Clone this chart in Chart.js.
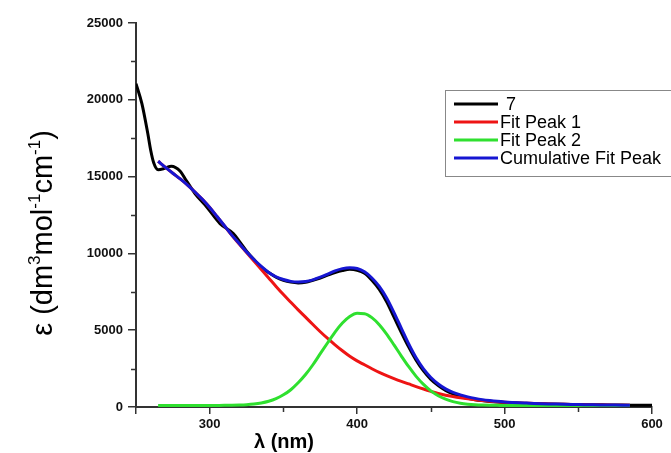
<!DOCTYPE html>
<html>
<head>
<meta charset="utf-8">
<script src="https://cdn.jsdelivr.net/npm/chart.js@4.4.1/dist/chart.umd.min.js"></script>
<style>
html,body{margin:0;padding:0;background:#fff;}
#wrap{width:671px;height:453px;position:relative;}
</style>
</head>
<body>
<div id="wrap"><canvas id="c" width="671" height="453"></canvas></div>
<script>
// ---- data ----
const seriesLabels = ["7", "Fit Peak 1", "Fit Peak 2", "Cumulative Fit Peak"];
const xTickLabels = [300, 400, 500, 600];
const yTickLabels = [0, 5000, 10000, 15000, 20000, 25000];

// measured spectrum "7"
const sampleWavelength = [250,254,258,260,262,265,269,274,280,284,290,298,307,316,320,325,330,335,340,345,350,355,360,365,370,375,380,385,390,395,400,405,410,415,420,425,430,435,440,445,450,455,460,465,470,475,480,490,500,510,520,530,540,550,560,570,580,590,600];
const sampleEps = [21050,19750,17800,16700,15900,15450,15520,15680,15350,14760,13900,13020,11940,11290,10800,10150,9600,9100,8750,8450,8250,8130,8080,8120,8250,8400,8580,8750,8880,8960,8900,8700,8250,7650,6850,5850,4850,3900,3050,2350,1800,1400,1080,850,680,560,470,360,290,250,220,195,175,160,145,135,125,118,110];

// fitted curves (5 nm grid, 265-585 nm)
const fitWavelength = [265,270,275,280,285,290,295,300,305,310,315,320,325,330,335,340,345,350,355,360,365,370,375,380,385,390,395,400,405,410,415,420,425,430,435,440,445,450,455,460,465,470,475,480,485,490,495,500,505,510,515,520,525,530,535,540,545,550,555,560,565,570,575,580,585];
const fitPeak1 = [16000,15600,15220,14850,14450,14000,13520,12990,12395,11790,11175,10610,10050,9500,8950,8400,7850,7320,6820,6320,5850,5370,4900,4460,4050,3660,3300,3000,2750,2490,2250,2040,1850,1670,1500,1330,1170,1020,880,770,680,600,530,470,420,380,345,315,290,265,245,225,210,195,183,172,162,153,145,138,131,125,120,115,110];
const fitPeak2 = [100,100,100,100,100,100,100,100,103,107,114,128,152,195,266,378,548,792,1125,1576,2113,2750,3473,4185,4878,5465,5889,6100,6077,5819,5358,4745,4043,3318,2622,1995,1470,1053,736,508,351,249,185,146,124,112,106,100,100,100,100,100,100,100,100,100,100,100,100,100,100,100,100,100,100];
const fitCumulative = [16000,15600,15220,14850,14450,14000,13520,12990,12400,11800,11190,10640,10100,9600,9150,8760,8480,8300,8180,8140,8170,8280,8450,8650,8860,9010,9070,9020,8800,8400,7850,7100,6150,5120,4100,3200,2480,1920,1500,1180,950,790,660,560,480,420,370,330,300,275,255,235,218,203,190,178,167,158,150,142,135,129,123,118,113];

const seriesColors = ["#000000", "#ee1414", "#2fe02f", "#1616d2"];

// ---- build chart ----
const pairs = (xs, ys) => xs.map((x, i) => ({x: x, y: ys[i]}));
const FONT = "'Liberation Sans', Arial, Helvetica, sans-serif";

const datasets = [
  {label: seriesLabels[0], data: pairs(sampleWavelength, sampleEps), order: 3},
  {label: seriesLabels[1], data: pairs(fitWavelength, fitPeak1), order: 2},
  {label: seriesLabels[2], data: pairs(fitWavelength, fitPeak2), order: 1},
  {label: seriesLabels[3], data: pairs(fitWavelength, fitCumulative), order: 0}
].map((d, i) => Object.assign(d, {
  borderColor: seriesColors[i],
  backgroundColor: seriesColors[i],
  borderWidth: 3,
  pointRadius: 0,
  fill: false,
  cubicInterpolationMode: 'monotone'
}));

const annotPlugin = {
  id: 'annot',
  afterDraw(chart) {
    const ctx = chart.ctx;
    ctx.save();
    // minor ticks
    const xs = chart.scales.x, ys = chart.scales.y;
    ctx.strokeStyle = '#333';
    ctx.lineWidth = 1.5;
    ctx.beginPath();
    [350, 450, 550].forEach(v => {
      const px = Math.round(xs.getPixelForValue(v)) + 0.5;
      ctx.moveTo(px, ys.bottom); ctx.lineTo(px, ys.bottom + 5);
    });
    [2500, 7500, 12500, 17500, 22500].forEach(v => {
      const py = Math.round(ys.getPixelForValue(v)) + 0.5;
      ctx.moveTo(xs.left, py); ctx.lineTo(xs.left - 5, py);
    });
    ctx.stroke();

    // y axis title with superscripts
    const big = "29px " + FONT, small = "17px " + FONT;
    const parts = [["ε (dm", 0], ["3", 1], ["mol", 0], ["-1", 1], ["cm", 0], ["-1", 1], [")", 0]];
    let total = 0;
    parts.forEach(p => { ctx.font = p[1] ? small : big; total += ctx.measureText(p[0]).width; });
    ctx.translate(52, 233);
    ctx.rotate(-Math.PI / 2);
    ctx.fillStyle = '#000';
    ctx.textBaseline = 'alphabetic';
    ctx.textAlign = 'left';
    let cx = -total / 2;
    parts.forEach(p => {
      ctx.font = p[1] ? small : big;
      ctx.fillText(p[0], cx, p[1] ? -12 : 0);
      cx += ctx.measureText(p[0]).width;
    });
    ctx.setTransform(1, 0, 0, 1, 0, 0);

    // x axis title
    ctx.font = "bold 20px " + FONT;
    ctx.textAlign = 'center';
    ctx.textBaseline = 'middle';
    ctx.fillStyle = '#000';
    ctx.fillText("λ (nm)", 284, 442);

    // legend
    ctx.strokeStyle = '#888';
    ctx.lineWidth = 1;
    ctx.strokeRect(445.5, 90.5, 240, 86);
    ctx.font = "18px " + FONT;
    ctx.textAlign = 'left';
    ctx.textBaseline = 'middle';
    chart.data.datasets.forEach((d, i) => {
      const y = 104 + i * 18;
      ctx.strokeStyle = d.borderColor;
      ctx.lineWidth = 3;
      ctx.beginPath();
      ctx.moveTo(454, y); ctx.lineTo(498, y);
      ctx.stroke();
      ctx.fillStyle = '#000';
      ctx.fillText(d.label, i === 0 ? 506 : 500, y + 1);
    });
    ctx.restore();
  }
};

new Chart(document.getElementById('c'), {
  type: 'line',
  data: {datasets: datasets},
  options: {
    responsive: false,
    animation: false,
    layout: {padding: {left: 0, right: 19, top: 23, bottom: 0}},
    plugins: {legend: {display: false}, tooltip: {enabled: false}},
    scales: {
      x: {
        type: 'linear',
        min: 250, max: 600,
        afterFit: s => { s.height = 46; },
        afterBuildTicks: s => { s.ticks = [250].concat(xTickLabels).map(v => ({value: v})); },
        ticks: {
          autoSkip: false,
          maxRotation: 0,
          padding: 3,
          color: '#111',
          font: {family: FONT, size: 13, weight: 'bold'},
          callback: v => (xTickLabels.includes(v) ? String(v) : '')
        },
        grid: {drawOnChartArea: false, drawTicks: true, tickLength: 7, color: '#333', lineWidth: 1.5},
        border: {display: true, color: '#333', width: 2}
      },
      y: {
        type: 'linear',
        min: 0, max: 25000,
        afterFit: s => { s.width = 136; },
        afterBuildTicks: s => { s.ticks = yTickLabels.map(v => ({value: v})); },
        ticks: {
          autoSkip: false,
          padding: 5,
          color: '#111',
          font: {family: FONT, size: 13, weight: 'bold'},
          callback: v => String(v)
        },
        grid: {drawOnChartArea: false, drawTicks: true, tickLength: 8, color: '#333', lineWidth: 1.5},
        border: {display: true, color: '#333', width: 2}
      }
    }
  },
  plugins: [annotPlugin]
});
</script>
</body>
</html>
